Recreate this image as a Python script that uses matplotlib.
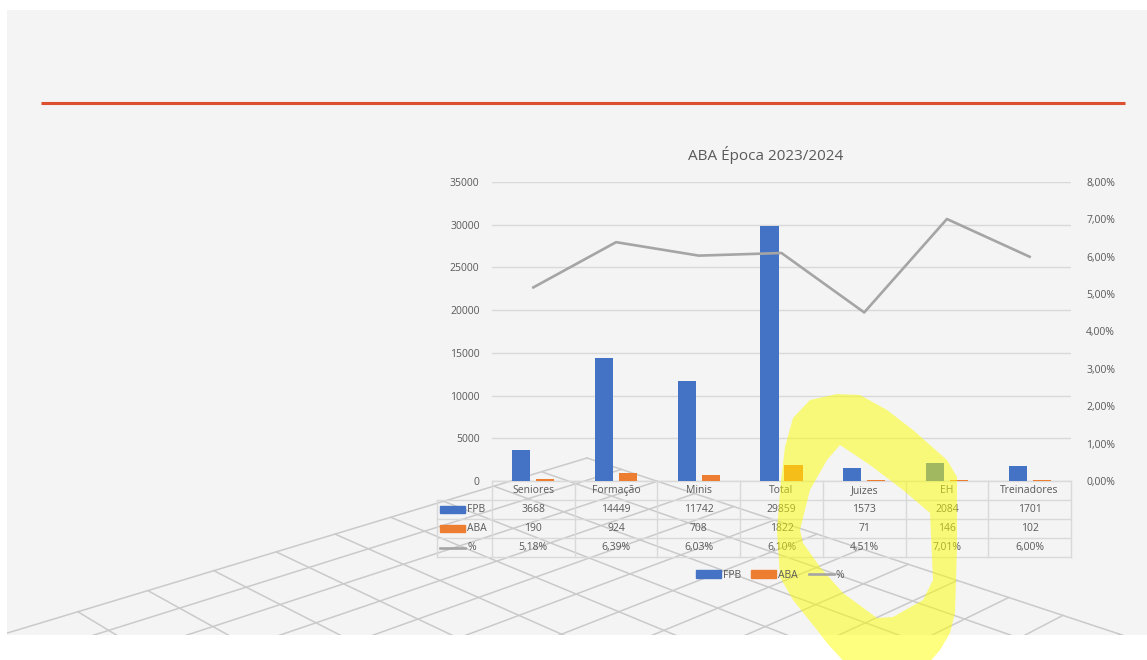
'''
ABA Época 2023/2024 - FPB vs ABA, with data table, on the slide background.
'''

import numpy as np
import matplotlib.pyplot as plt
import matplotlib.transforms as mtransforms
from matplotlib.patches import Rectangle, PathPatch, Patch
from matplotlib.path import Path
from matplotlib.lines import Line2D
from matplotlib.ticker import FuncFormatter, MultipleLocator

plt.rcParams['font.family'] = ['Open Sans', 'DejaVu Sans']

categories = ['Seniores', 'Formação', 'Minis', 'Total', 'Juizes', 'EH', 'Treinadores']
fpb = [3668, 14449, 11742, 29859, 1573, 2084, 1701]
aba = [190, 924, 708, 1822, 71, 146, 102]
pct = [5.18, 6.39, 6.03, 6.10, 4.51, 7.01, 6.00]

BLUE, ORANGE, GREY, TXT = '#4472c4', '#ed7d31', '#a5a5a5', '#595959'

W, H = 1147, 660
fig = plt.figure(figsize=(W / 100, H / 100), dpi=100, facecolor='white')


def px(x0, y0, x1, y1):
    # pixel box (origin top-left) -> figure fraction rect
    return [x0 / W, 1 - y1 / H, (x1 - x0) / W, (y1 - y0) / H]


def pct_fmt(v):
    return f'{v:.2f}%'.replace('.', ',')


# slide background, red rule and the perspective floor
bg = fig.add_axes(px(7, 10, 1147, 635), zorder=0)
bg.set_xlim(7, 1147)
bg.set_ylim(635, 10)
bg.axis('off')
bg.add_patch(Rectangle((7, 10), 1140, 625, color='#f4f4f4', zorder=0))
bg.plot([41, 1125], [103, 103], color='#dc5030', lw=2.2, solid_capstyle='butt')

corner = np.array([587, 458])
vp_a = np.array([2435, -100])
vp_b = np.array([-1100, -100])


def floor(s, r):
    return (corner - s * vp_a - r * vp_b) / (1 - s - r)


step_s, step_r = 0.024, 0.02
for k in range(30):
    s = k * step_s
    if s < 0.6:
        p0, p1 = floor(s, 0), floor(s, min(0.6, 0.9 - s))
        bg.plot([p0[0], p1[0]], [p0[1], p1[1]], color='#cacaca', lw=1.1, zorder=1)
    r = k * step_r
    if r < 0.6:
        p0, p1 = floor(0, r), floor(min(0.6, 0.9 - r), r)
        bg.plot([p0[0], p1[0]], [p0[1], p1[1]], color='#cacaca', lw=1.1, zorder=1)

# main chart
ax = fig.add_axes(px(492, 182, 1071, 481), zorder=2)
ax.set_facecolor('none')
x = np.arange(len(categories))
ax.bar(x - 0.145, fpb, 0.22, color=BLUE, zorder=3)
ax.bar(x + 0.145, aba, 0.22, color=ORANGE, zorder=3)
ax.set_xlim(-0.5, len(categories) - 0.5)
ax.set_ylim(0, 35000)
ax.yaxis.set_major_locator(MultipleLocator(5000))
ax.grid(axis='y', color='#d9d9d9', lw=1)
ax.set_axisbelow(True)
ax.set_xticks([])
ax.tick_params(axis='y', length=0, pad=9, labelsize=7.5, labelcolor=TXT)
for sp in ax.spines.values():
    sp.set_visible(False)

ax2 = ax.twinx()
ax2.plot(x, np.array(pct) / 100, color=GREY, lw=1.9, zorder=4)
ax2.set_ylim(0, 0.08)
ax2.yaxis.set_major_locator(MultipleLocator(0.01))
ax2.yaxis.set_major_formatter(FuncFormatter(lambda v, p: pct_fmt(v * 100)))
ax2.tick_params(axis='y', length=0, pad=11, labelsize=7.5, labelcolor=TXT)
for sp in ax2.spines.values():
    sp.set_visible(False)

fig.text(766 / W, 1 - 155 / H, 'ABA Época 2023/2024', ha='center', va='center',
         fontsize=11, color=TXT)

# data table under the plot
tr = mtransforms.blended_transform_factory(ax.transData, ax.transAxes)
rh = 19 / 299
leg_left = -0.5 - 55 / (579 / len(categories))
tcol = '#d9d9d9'
for k in range(5):
    x0 = -0.5 if k == 0 else leg_left
    ax.plot([x0, len(categories) - 0.5], [-k * rh, -k * rh], color=tcol, lw=1,
            transform=tr, clip_on=False)
for k in range(len(categories) + 1):
    ax.plot([k - 0.5, k - 0.5], [0, -4 * rh], color=tcol, lw=1, transform=tr, clip_on=False)
ax.plot([leg_left, leg_left], [-rh, -4 * rh], color=tcol, lw=1, transform=tr, clip_on=False)

rows = [categories, [str(v) for v in fpb], [str(v) for v in aba], [pct_fmt(v) for v in pct]]
for r, vals in enumerate(rows):
    for i, s in enumerate(vals):
        ax.text(i, -(r + 0.5) * rh, s, transform=tr, ha='center', va='center',
                fontsize=7.5, color=TXT, clip_on=False)

# legend keys inside the table (pixel overlay)
ov = fig.add_axes([0, 0, 1, 1], zorder=3)
ov.set_xlim(0, W)
ov.set_ylim(H, 0)
ov.axis('off')
ov.set_facecolor('none')
for yc, lab, kind, col in [(509.5, 'FPB', 'bar', BLUE), (528.5, 'ABA', 'bar', ORANGE),
                           (547.5, '%', 'line', GREY)]:
    if kind == 'bar':
        ov.add_patch(Rectangle((440, yc - 3.5), 25, 7, color=col))
    else:
        ov.plot([440, 465], [yc, yc], color=col, lw=1.9)
    ov.text(467, yc, lab, ha='left', va='center', fontsize=7.5, color=TXT)

handles = [Patch(color=BLUE), Patch(color=ORANGE), Line2D([], [], color=GREY, lw=1.9)]
fig.legend(handles, ['FPB', 'ABA', '%'], loc='center', bbox_to_anchor=(770 / W, 1 - 575 / H),
           ncol=3, frameon=False, fontsize=7.5, labelcolor=TXT, handlelength=2.4,
           handleheight=0.7, handletextpad=0.2, columnspacing=1.0)

# yellow highlighter stroke drawn over the slide
outer = [(793, 418), (810, 400), (837, 394), (860, 395), (887, 410), (913, 430), (947, 460),
         (957, 477), (957, 547), (955, 613), (950, 633), (940, 650), (927, 665), (847, 665),
         (827, 643), (817, 630), (793, 600), (780, 577), (777, 530), (781, 480), (785, 447)]
inner = [(840, 445), (870, 465), (903, 490), (930, 513), (933, 580), (923, 600), (893, 617),
         (877, 618), (843, 593), (820, 567), (803, 543), (800, 530), (810, 490), (827, 460)]


def ring(pts, ccw):
    pts = np.array(pts, float)
    area = np.sum(pts[:, 0] * np.roll(pts[:, 1], -1) - np.roll(pts[:, 0], -1) * pts[:, 1])
    if (area > 0) != ccw:
        pts = pts[::-1]
    return np.vstack([pts, pts[:1]])


o = ring(outer, True)
i_ = ring(inner, False)
codes = [Path.MOVETO] + [Path.LINETO] * (len(o) - 2) + [Path.CLOSEPOLY]
codes_i = [Path.MOVETO] + [Path.LINETO] * (len(i_) - 2) + [Path.CLOSEPOLY]
hl = Path(np.vstack([o, i_]), codes + codes_i)
ov.add_patch(PathPatch(hl, facecolor='#ffff00', edgecolor='none', alpha=0.5, zorder=10))

plt.savefig('out.png', dpi=100, facecolor=fig.get_facecolor())
